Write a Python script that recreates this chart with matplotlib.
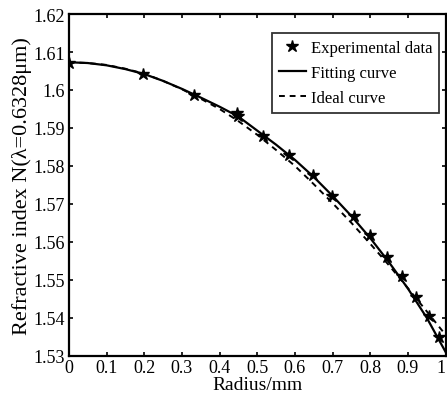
import matplotlib
matplotlib.use("Agg")
import matplotlib.pyplot as plt

# datos
radio_exp = [0.0, 0.197, 0.331, 0.446, 0.448, 0.514, 0.583, 0.648, 0.699, 0.758, 0.798, 0.845, 0.884, 0.920, 0.955, 0.983]
n_exp = [1.6070, 1.6042, 1.5988, 1.5940, 1.5931, 1.5880, 1.5830, 1.5775, 1.5722, 1.5668, 1.5617, 1.5560, 1.5510, 1.5455, 1.5405, 1.5350]

radio_curva = [0.0, 0.05, 0.1, 0.15, 0.2, 0.25, 0.3, 0.35, 0.4, 0.45, 0.5, 0.55, 0.6, 0.65, 0.7, 0.75, 0.8, 0.85, 0.9, 0.95, 1.0]
n_ajuste = [1.6073, 1.6071, 1.6065, 1.6055, 1.6042, 1.6024, 1.6003, 1.5980, 1.5956, 1.5930, 1.5893, 1.5856, 1.5816, 1.5771, 1.5721, 1.5668, 1.5610, 1.5546, 1.5477, 1.5400, 1.5310]
n_ideal = [1.6073, 1.6071, 1.6066, 1.6056, 1.6043, 1.6024, 1.6002, 1.5977, 1.5950, 1.5918, 1.5882, 1.5842, 1.5800, 1.5752, 1.5702, 1.5650, 1.5595, 1.5538, 1.5478, 1.5417, 1.5355]

xticks = [0, 0.1, 0.2, 0.3, 0.4, 0.5, 0.6, 0.7, 0.8, 0.9, 1]
xlabels = ["0", "0.1", "0.2", "0.3", "0.4", "0.5", "0.6", "0.7", "0.8", "0.9", "1"]
yticks = [1.53, 1.54, 1.55, 1.56, 1.57, 1.58, 1.59, 1.6, 1.61, 1.62]
ylabels = ["1.53", "1.54", "1.55", "1.56", "1.57", "1.58", "1.59", "1.6", "1.61", "1.62"]

plt.rcParams['font.family'] = ['Liberation Serif', 'DejaVu Serif']

fig = plt.figure(figsize=(4.47, 4.06), dpi=100)
ax = fig.add_axes([0.154, 0.121, 0.843, 0.842])

ax.plot(radio_exp, n_exp, linestyle='none', marker='*', markersize=9, color='black', label='Experimental data')
ax.plot(radio_curva, n_ajuste, color='black', linewidth=1.6, label='Fitting curve')
ax.plot(radio_curva, n_ideal, color='black', linewidth=1.4, linestyle=(0, (3, 2.5)), label='Ideal curve')

ax.set_xlim(0, 1)
ax.set_ylim(1.53, 1.62)
ax.set_xticks(xticks)
ax.set_xticklabels(xlabels)
ax.set_yticks(yticks)
ax.set_yticklabels(ylabels)
ax.tick_params(direction='in', top=True, right=True, length=3, width=1.2, labelsize=13, pad=3)
ax.tick_params(axis='x', pad=2)
ax.get_xticklabels()[-1].set_horizontalalignment('right')
for s in ax.spines.values():
    s.set_linewidth(1.6)

ax.set_xlabel("Radius/mm", fontsize=14, labelpad=0)
ax.set_ylabel("Refractive index N(λ=0.6328μm)", fontsize=16, labelpad=1)

leg = ax.legend(loc='upper right', bbox_to_anchor=(0.982, 0.944), fontsize=12, frameon=True, fancybox=False,
                edgecolor='black', handlelength=1.6, handletextpad=0.3, borderpad=0.4, labelspacing=0.55,
                borderaxespad=0)
leg.get_frame().set_linewidth(1.3)

plt.savefig("out.png", dpi=100)
